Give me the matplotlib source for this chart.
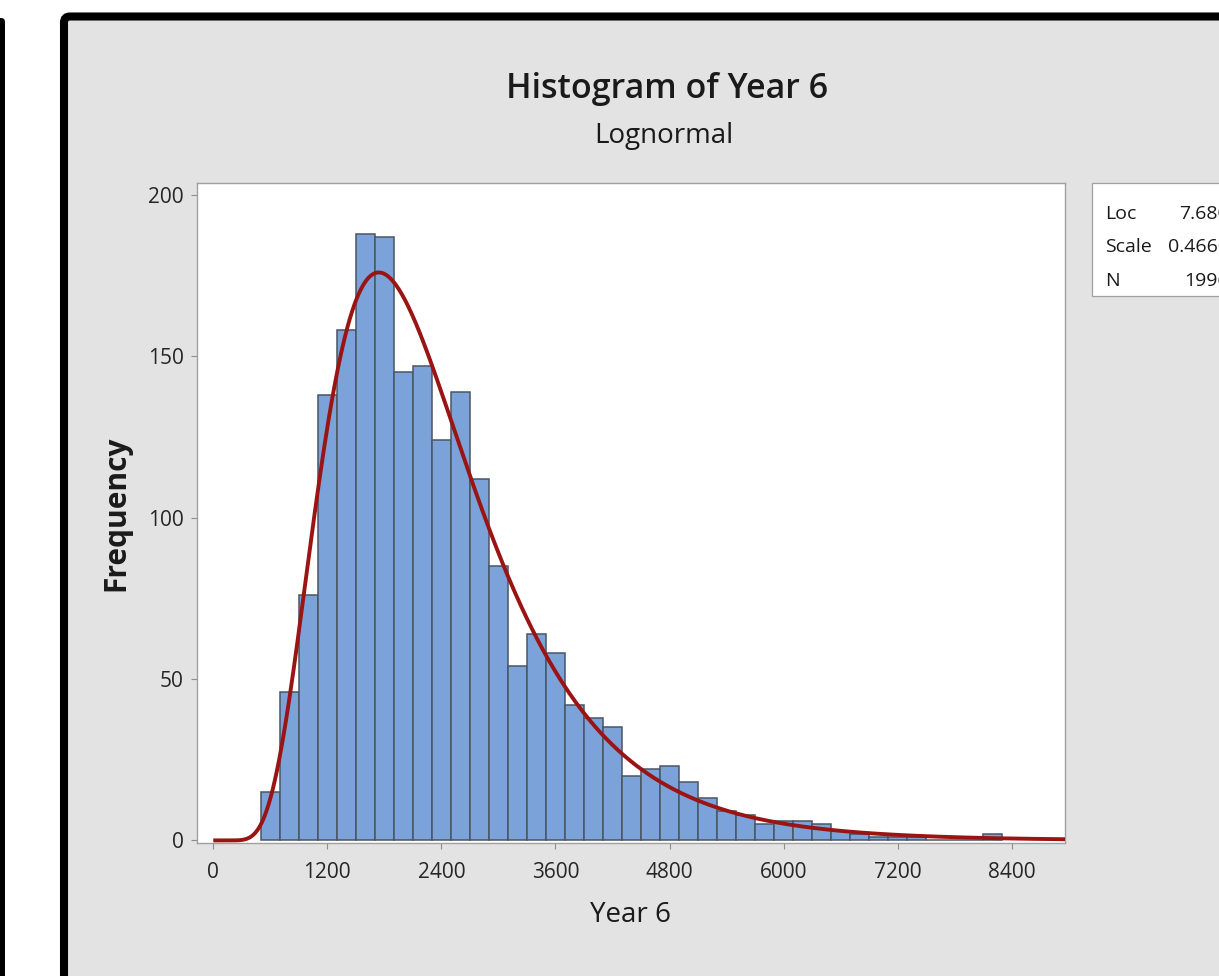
import numpy as np
import matplotlib.pyplot as plt
from matplotlib.patches import FancyBboxPatch, Rectangle
from matplotlib.transforms import IdentityTransform

plt.rcParams['font.family'] = ['Open Sans', 'DejaVu Sans']

W, H = 1219, 976

# histogram of Year 6, bins of width 200
bin_centers = [600, 800, 1000, 1200, 1400, 1600, 1800, 2000, 2200, 2400,
               2600, 2800, 3000, 3200, 3400, 3600, 3800, 4000, 4200, 4400,
               4600, 4800, 5000, 5200, 5400, 5600, 5800, 6000, 6200, 6400,
               6600, 6800, 7000, 7200, 7400, 7600, 7800, 8000, 8200]
counts = [15, 46, 76, 138, 158, 188, 187, 145, 147, 124,
          139, 112, 85, 54, 64, 58, 42, 38, 35, 20,
          22, 23, 18, 13, 9, 8, 5, 6, 6, 5,
          3, 2, 1, 1, 1, 0, 0, 0, 2]
bin_width = 200

# lognormal fit shown in the legend
loc = 7.680
scale = 0.4660
n_obs = 1996

x_ticks = [0, 1200, 2400, 3600, 4800, 6000, 7200, 8400]
y_ticks = [0, 50, 100, 150, 200]


def px(x, y):
    # image pixel (top-left origin) -> figure fraction
    return x / W, 1 - y / H


fig = plt.figure(figsize=(W / 100, H / 100), dpi=100, facecolor='white')
ident = IdentityTransform()

# black stripe on the far left
fig.add_artist(FancyBboxPatch((-12, -20), 17, H - 18 + 20,
                              boxstyle='round,pad=0,rounding_size=4',
                              transform=ident, facecolor='black',
                              edgecolor='none', zorder=-3))
# framed grey panel
fig.add_artist(FancyBboxPatch((64, -80), 1400, H - 16.5 + 80,
                              boxstyle='round,pad=0,rounding_size=6',
                              transform=ident, facecolor='#e3e3e3',
                              edgecolor='black', linewidth=5.8, zorder=-2))

ax = fig.add_axes([197 / W, 1 - 843 / H, (1065 - 197) / W, (843 - 183) / H])
ax.set_facecolor('white')

ax.bar(bin_centers, counts, width=bin_width, color='#7ba3d9',
       edgecolor='#4a5563', linewidth=1.1, zorder=2)

xs = np.linspace(1, 8960, 800)
pdf = np.exp(-(np.log(xs) - loc) ** 2 / (2 * scale ** 2)) / (xs * scale * np.sqrt(2 * np.pi))
ax.plot(xs, pdf * n_obs * bin_width, color='#9b1414', linewidth=2.8,
        solid_capstyle='butt', zorder=3)

ax.set_xlim(-170, 8960)
ax.set_ylim(-0.8, 203.7)
ax.set_xticks(x_ticks)
ax.set_yticks(y_ticks)
ax.tick_params(direction='out', length=4.5, width=0.8, color='#8c8c8c',
               labelsize=15, labelcolor='#262626')
ax.tick_params(axis='x', pad=9)
ax.tick_params(axis='y', pad=5)
for s in ax.spines.values():
    s.set_color('#a0a0a0')
    s.set_linewidth(1.0)

ax.set_xlabel('Year 6', fontsize=20, color='#1a1a1a', labelpad=13)
ax.set_ylabel('Frequency', fontsize=21.5, fontweight='bold', color='#1a1a1a',
              labelpad=12)

fig.text(*px(667, 98), 'Histogram of Year 6', ha='center', va='baseline',
         fontsize=24.5, fontweight='semibold', color='#1a1a1a')
fig.text(*px(664, 143), 'Lognormal', ha='center', va='baseline',
         fontsize=20, color='#1a1a1a')

# parameter box (runs off the right edge)
fig.add_artist(Rectangle((1092, H - 296), 400, 296 - 182.5, transform=ident,
                         facecolor='white', edgecolor='#a0a0a0',
                         linewidth=0.9, zorder=-1))
rows = [('Loc', f'{loc:.3f}'), ('Scale', f'{scale:.4f}'), ('N', str(n_obs))]
for i, (name, val) in enumerate(rows):
    yb = 219 + i * 33.5
    fig.text(*px(1105, yb), name, ha='left', va='baseline', fontsize=14,
             color='#1a1a1a')
    fig.text(*px(1229, yb), val, ha='right', va='baseline', fontsize=14,
             color='#1a1a1a')

fig.savefig('out.png', dpi=100)
